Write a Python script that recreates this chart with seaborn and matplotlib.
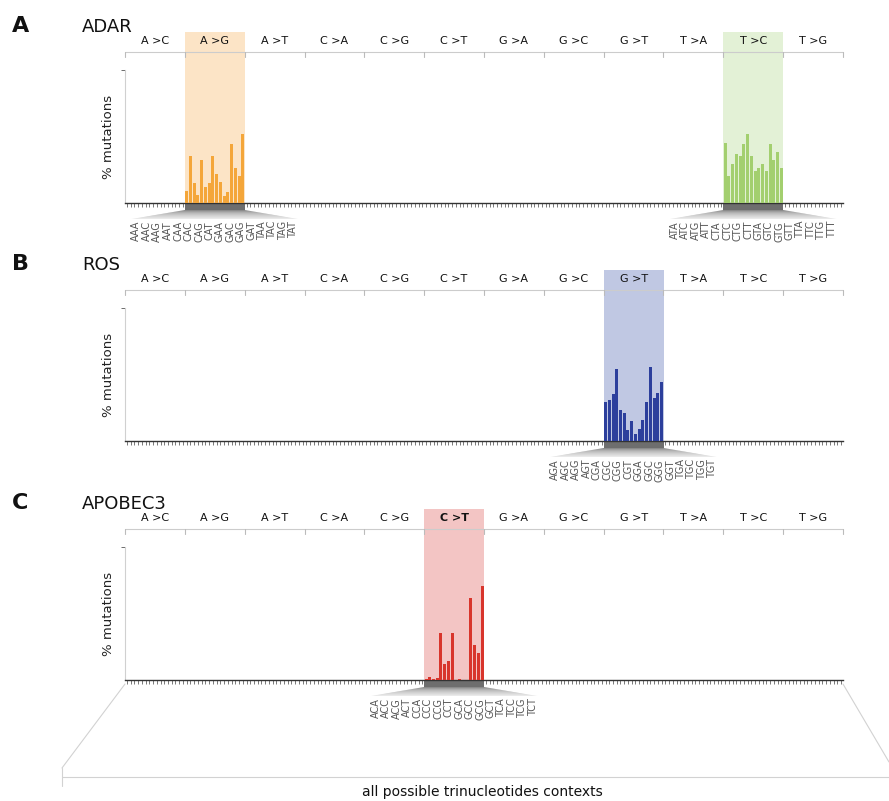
import numpy as np
import pandas as pd
import seaborn as sns
import matplotlib.pyplot as plt
from matplotlib.patches import Polygon, Rectangle
from matplotlib.lines import Line2D

# ---------------- data ----------------
mut_types = ["A>C", "A>G", "A>T", "C>A", "C>G", "C>T",
             "G>A", "G>C", "G>T", "T>A", "T>C", "T>G"]
bases = ["A", "C", "G", "T"]

# % mutations per trinucleotide context (16 contexts per substitution)
adar_ag = [0.9, 3.5, 1.5, 0.6, 3.2, 1.2, 1.5, 3.5, 2.2, 1.6, 0.5, 0.8, 4.4, 2.6, 2.0, 5.2]
adar_tc = [4.5, 2.0, 2.9, 3.7, 3.5, 4.4, 5.2, 3.5, 2.4, 2.6, 2.9, 2.4, 4.4, 3.2, 3.8, 2.6]
ros_gt = [2.9, 3.1, 3.5, 5.4, 2.3, 2.1, 0.8, 1.5, 0.5, 0.9, 1.6, 2.9, 5.6, 3.2, 3.6, 4.4]
apobec_ct = [0.1, 0.2, 0.05, 0.15, 3.5, 1.2, 1.4, 3.5, 0.02, 0.1, 0.02, 0.02, 6.2, 2.6, 2.0, 7.1]

panels = [
    {"letter": "A", "name": "ADAR", "base": 203, "bold": None,
     "sig": {"A>G": (adar_ag, "#f4a63a", "#fce4c6"),
             "T>C": (adar_tc, "#a3cf6f", "#e3f1d6")}},
    {"letter": "B", "name": "ROS", "base": 441, "bold": None,
     "sig": {"G>T": (ros_gt, "#2c3f9c", "#c0c8e3")}},
    {"letter": "C", "name": "APOBEC3", "base": 680, "bold": "C>T",
     "sig": {"C>T": (apobec_ct, "#d8352c", "#f3c5c4")}},
]

# ---------------- layout ----------------
W, H = 889, 801
AX_L, AX_R, AX_H = 125, 843, 133
YMAX = 10.0
SPREAD = 2.8  # label spacing in bar units

sns.set_theme(style="white")
plt.rcParams["font.family"] = ["DejaVu Sans"]

fig = plt.figure(figsize=(W / 100, H / 100), dpi=100)

# all contexts, in the usual order: 5' base slow, 3' base fast
rows = []
for m in mut_types:
    for b5 in bases:
        for b3 in bases:
            rows.append({"mut": m, "ctx": f"{b5}[{m}]{b3}", "label": b5 + m[0] + b3})
contexts = pd.DataFrame(rows)
n_ctx = len(contexts)


def px(p):
    # pixel offset from the baseline -> data y units
    return p / AX_H * YMAX


for p in panels:
    ax = fig.add_axes([AX_L / W, (H - p["base"]) / H, (AX_R - AX_L) / W, AX_H / H])

    df = contexts.copy()
    df["pct"] = 0.0
    palette = {m: "#999999" for m in mut_types}
    for m, (vals, bar_c, shade_c) in p["sig"].items():
        df.loc[df["mut"] == m, "pct"] = vals
        palette[m] = bar_c

    sns.barplot(data=df, x="ctx", y="pct", hue="mut", order=list(df["ctx"]),
                palette=palette, width=0.8, saturation=1, linewidth=0,
                errorbar=None, legend=False, ax=ax, zorder=3)

    ax.set_xlim(-0.5, n_ctx - 0.5)
    ax.set_ylim(0, YMAX)
    ax.set_xlabel("")
    ax.set_ylabel("% mutations", fontsize=9.5, color="#222222")
    ax.yaxis.set_label_coords(-10 / (AX_R - AX_L), 0.5)

    ax.set_xticks(range(n_ctx))
    ax.set_xticklabels([])
    ax.tick_params(axis="x", bottom=True, length=3, width=0.5, color="#444444",
                   direction="out", pad=0)
    ax.set_yticks([YMAX])
    ax.set_yticklabels([])
    ax.tick_params(axis="y", left=True, length=3, width=0.6, color="#555555",
                   direction="out")
    for s in ["top", "right"]:
        ax.spines[s].set_visible(False)
    ax.spines["bottom"].set_color("#333333")
    ax.spines["bottom"].set_linewidth(1.0)
    ax.spines["left"].set_color("#d0d0d0")
    ax.spines["left"].set_linewidth(0.8)

    # header: substitution names, rule and boundary ticks
    for i, m in enumerate(mut_types):
        c = i * 16 + 7.5
        txt = m.replace(">", " >")
        ax.text(c, px(162), txt, ha="center", va="center", fontsize=8,
                fontweight="bold" if m == p["bold"] else "normal",
                color="#111111", clip_on=False, zorder=5)
    ax.plot([-0.5, n_ctx - 0.5], [px(151), px(151)], color="#cccccc", lw=0.8,
            clip_on=False, zorder=4)
    for k in range(13):
        xb = k * 16 - 0.5
        ax.plot([xb, xb], [px(151), px(146)], color="#bbbbbb", lw=0.8,
                clip_on=False, zorder=4)

    # highlighted substitution columns
    for m, (vals, bar_c, shade_c) in p["sig"].items():
        i = mut_types.index(m)
        x0, x1 = i * 16 - 0.5, i * 16 + 15.5
        c = i * 16 + 7.5
        ax.add_patch(Rectangle((x0, 0), x1 - x0, px(171), facecolor=shade_c,
                               edgecolor="none", clip_on=False, zorder=0))
        # dark band under the column
        ax.add_patch(Rectangle((x0, -px(7)), x1 - x0, px(7), facecolor="#6e6e6e",
                               edgecolor="none", clip_on=False, zorder=1))
        # fading lens towards the labels
        lx0, lx1 = c - 7.5 * SPREAD - 1.2, c + 7.5 * SPREAD + 1.2
        n = 10
        for k in range(n):
            t0, t1 = k / n, (k + 1) / n
            y0, y1 = -px(7 + 9 * t0), -px(7 + 9 * t1)
            a0, b0 = x0 + (lx0 - x0) * t0, x1 + (lx1 - x1) * t0
            a1, b1 = x0 + (lx0 - x0) * t1, x1 + (lx1 - x1) * t1
            g = 0.5 + 0.45 * t0
            ax.add_patch(Polygon([(a0, y0), (b0, y0), (b1, y1), (a1, y1)],
                                 closed=True, facecolor=(g, g, g), edgecolor="none",
                                 clip_on=False, zorder=1))
        labs = contexts.loc[contexts["mut"] == m, "label"].tolist()
        for j, lab in enumerate(labs):
            ax.text(c + (j - 7.5) * SPREAD, -px(18), lab, rotation=90, ha="center",
                    va="top", fontsize=7, color="#555555", clip_on=False)

    # panel letter and title
    yb = (H - (p["base"] - 171)) / H
    fig.text(12 / W, yb, p["letter"], fontsize=16, fontweight="bold", ha="left",
             va="baseline", color="#111111")
    fig.text(82 / W, yb, p["name"], fontsize=13, ha="left", va="baseline", color="#111111")

# bottom perspective frame
def fig_line(xs, ys):
    fig.add_artist(Line2D([x / W for x in xs], [1 - y / H for y in ys],
                          transform=fig.transFigure, color="#d2d2d2", lw=0.8))

fig_line([125, 62], [684, 768])
fig_line([62, 62], [768, 786])
fig_line([62, 889], [777, 777])
fig_line([843, 889], [684, 762])
fig.text(482 / W, 1 - 792 / H, "all possible trinucleotides contexts", ha="center",
         va="center", fontsize=10, color="#111111")

fig.savefig("out.png", dpi=100)
